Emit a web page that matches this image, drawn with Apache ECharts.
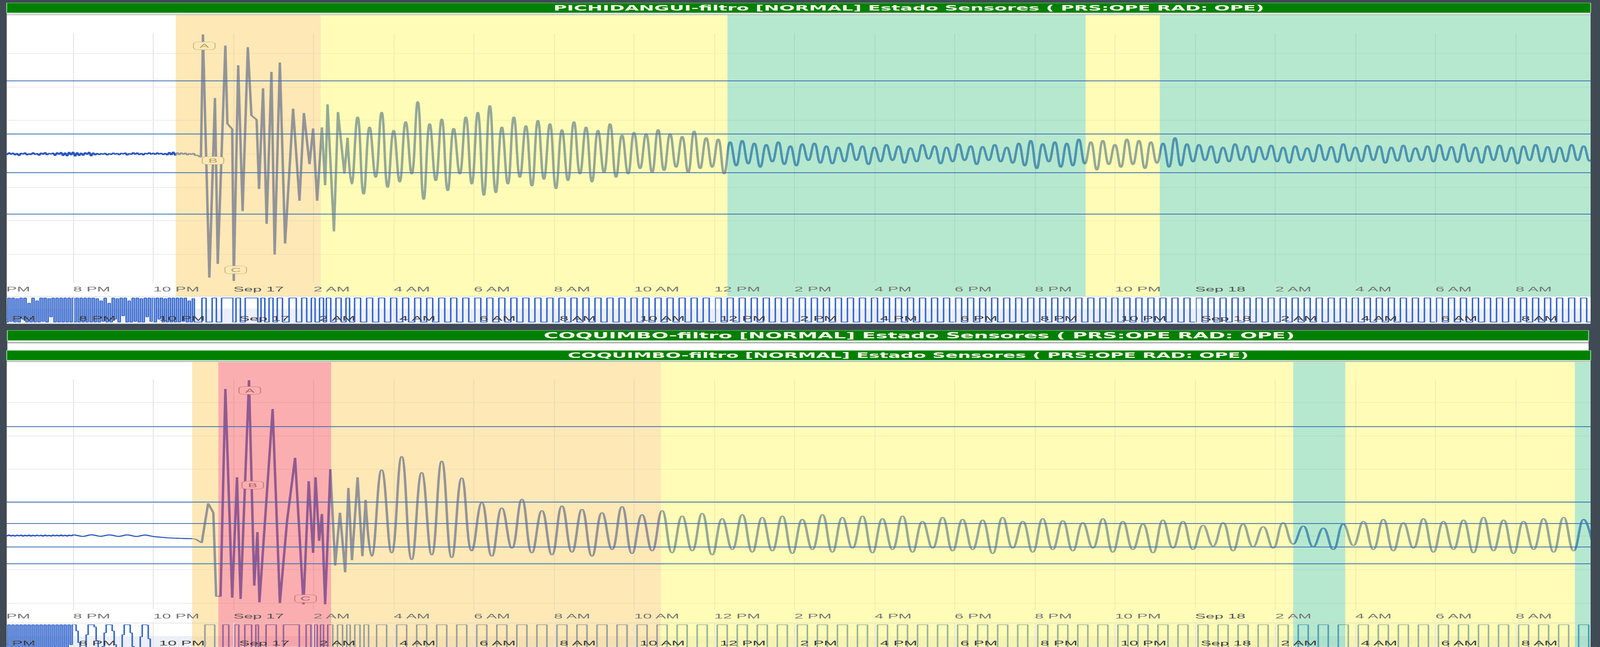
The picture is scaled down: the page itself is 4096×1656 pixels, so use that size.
<!DOCTYPE html>
<html><head><meta charset="utf-8">
<script src="https://cdn.jsdelivr.net/npm/echarts@6/dist/echarts.min.js"></script>
<style>
html,body{margin:0;padding:0;background:#404a55;overflow:hidden;width:4096px;height:1656px;}
#chart{width:1707px;height:1656px;transform:scaleX(2.399531);transform-origin:0 0;}
</style></head><body><div id="chart"></div>
<script>
// ---------------- DATA (hours relative to Sep 17 00:00, sea level in m) ----------------
const xMin = -6, xMax = 34, xStep = 2;
const xTickLabels = ['6 PM','8 PM','10 PM','Sep 17','2 AM','4 AM','6 AM','8 AM','10 AM','12 PM','2 PM','4 PM','6 PM','8 PM','10 PM','Sep 18','2 AM','4 AM','6 AM','8 AM','10 AM'];

const titleTop = 'PICHIDANGUI-filtro [NORMAL] Estado Sensores ( PRS:OPE RAD: OPE)';
const titleBottom = 'COQUIMBO-filtro [NORMAL] Estado Sensores ( PRS:OPE RAD: OPE)';

// status bands [from hour, to hour, status]
const p1Bands = [[-1.44,2.18,'orange'],[2.18,12.33,'yellow'],[12.33,21.27,'teal'],[21.27,23.12,'yellow'],[23.12,34,'teal']];
const p2Bands = [[-1.03,-0.375,'orange'],[-0.375,2.44,'red'],[2.44,10.67,'orange'],[10.67,26.45,'yellow'],[26.45,27.75,'teal'],[27.75,33.48,'yellow'],[33.48,34,'teal']];

const p1GridLevels = [1.5,1.0,0.5,0,-0.5,-1.0,-1.5];
const p2GridLevels = [2.0,1.5,1.0,0.5,0,-0.5,-1.0];
const p1Thresholds = [1.095,0.305,-0.275,-0.90];
const p2Thresholds = [1.635,0.51,0.19,-0.16,-0.41];
const p1LevelRange = [-1.925,1.8];
const p2LevelRange = [-1.10,2.345];
const p1NavRange = [-0.012,0.012];
const p2NavRange = [0.0,0.014];

// flags [hour, level, label]
const p1Flags = [[-0.726,1.615,'A'],[-0.509,-0.10,'B'],[0.058,-1.735,'C']];
const p2Flags = [[0.409,2.177,'A'],[0.481,0.762,'B'],[1.80,-0.935,'C']];

// pre-event record, sampled every 0.05 h from -6 h
const noiseStart = -6, noiseStep = 0.05;
const p1NoiseLevel = [
0.010,-0.020,0.015,-0.010,0.020,-0.025,0.005,-0.015,0.020,-0.010,0.015,-0.020,0.010,-0.030,0.012,-0.008,0.018,-0.020,0.006,-0.015,
0.020,-0.012,0.008,-0.025,0.015,-0.010,0.022,-0.018,0.010,-0.006,0.016,-0.028,0.020,-0.012,0.025,-0.030,0.018,-0.035,0.028,-0.020,
0.030,-0.038,0.022,-0.030,0.015,-0.025,0.020,-0.012,0.028,-0.035,0.018,-0.020,0.010,-0.015,0.008,-0.010,0.012,-0.020,0.006,-0.012,
0.015,-0.008,0.010,-0.018,0.012,-0.005,0.016,-0.022,0.008,-0.012,0.020,-0.010,0.018,-0.015,0.010,-0.020,0.012,-0.006,0.020,-0.010,
0.014,-0.012,0.018,-0.008,0.012,-0.015,0.010,-0.020,0.025,-0.018,0.030,-0.025,0.020,-0.015,0.018,-0.010,0.015,-0.020,0.008,-0.012,0.010,-0.025,-0.020,-0.040];
const p2NoiseLevel = [
0.016,-0.002,0.015,0.000,0.017,-0.003,0.014,0.001,0.018,-0.001,0.015,-0.002,0.016,0.002,0.017,-0.003,0.015,0.000,0.018,-0.002,
0.016,-0.001,0.017,0.001,0.015,-0.003,0.018,0.000,0.014,-0.002,0.017,0.002,0.016,-0.001,0.018,0.000,0.015,-0.002,0.017,0.003,
0.018,0.016,0.010,0.004,-0.002,-0.004,0.000,0.008,0.016,0.020,0.017,0.012,0.005,-0.001,-0.003,0.002,0.009,0.015,0.019,0.016,
0.010,0.003,-0.003,-0.004,0.001,0.008,0.015,0.018,0.015,0.009,0.002,-0.004,-0.005,0.000,0.007,0.014,0.017,0.013,0.006,0.000,
-0.006,-0.010,-0.012,-0.015,-0.018,-0.020,-0.022,-0.025,-0.027,-0.028,-0.030,-0.031,-0.032,-0.033,-0.034,-0.035,-0.036,-0.036,-0.037,-0.038,-0.040,-0.045,-0.060,-0.080];

// main arrival, read point by point [hour, level]
const p1Event = [[-0.81,-0.05],[-0.76,1.785],[-0.60,-1.85],[-0.46,0.835],[-0.39,-1.645],[-0.20,1.62],[-0.15,0.45],[-0.03,0.37],[0.01,-1.90],[0.12,1.325],[0.23,-0.855],[0.36,1.595],[0.45,0.575],[0.58,0.51],[0.64,-0.525],[0.74,0.98],[0.83,-1.045],[0.95,1.225],[1.03,-1.505],[1.16,1.365],[1.29,-1.34],[1.49,0.675],[1.65,-0.70],[1.76,0.61],[1.90,-0.155],[1.99,0.38],[2.09,-0.70],[2.21,0.395],[2.29,-0.47],[2.35,0.74],[2.51,-1.16],[2.61,0.625],[2.77,-0.295],[2.85,0.24]];
const p2Event = [[-0.79,-0.10],[-0.63,0.49],[-0.50,0.35],[-0.43,-0.90],[-0.32,-0.90],[-0.20,2.20],[-0.03,-0.92],[0.09,0.88],[0.18,-0.94],[0.39,2.33],[0.52,-0.74],[0.60,0.06],[0.65,-0.99],[0.98,1.90],[1.16,-1.00],[1.34,0.23],[1.54,1.17],[1.75,-1.02],[1.88,0.82],[1.99,-0.25],[2.05,0.88],[2.14,-0.07],[2.21,0.33],[2.29,-1.02],[2.42,1.00],[2.54,-0.44],[2.66,0.35],[2.79,-0.54],[2.87,0.72],[2.96,-0.36],[3.10,0.88],[3.22,-0.30],[3.30,0.54]];

// later oscillations: successive troughs / crests
const p1WaveStart = 2.95, p1WaveStep = 0.15;
const p1WaveLevel = [
-0.45,0.55,-0.60,0.40,-0.35,0.62,-0.50,0.35,-0.42,0.48,
-0.30,0.78,-0.68,0.45,-0.40,0.52,-0.55,0.38,-0.30,0.55,
-0.45,0.62,-0.62,0.72,-0.58,0.40,-0.45,0.55,-0.35,0.42,
-0.48,0.50,-0.38,0.45,-0.52,0.36,-0.40,0.48,-0.30,0.40,
-0.42,0.35,-0.28,0.45,-0.35,0.28,-0.30,0.32,-0.22,0.30,
-0.28,0.36,-0.25,0.30,-0.20,0.26,-0.28,0.34,-0.22,0.24,
-0.20,0.22,-0.30,0.18,-0.18,0.20,-0.15,0.16,-0.20,0.14,
-0.12,0.18,-0.16,0.12,-0.18,0.15,-0.10,0.16,-0.14,0.12,
-0.15,0.10,-0.12,0.16,-0.10,0.12,-0.16,0.10,-0.12,0.14,
-0.10,0.12,-0.14,0.09,-0.12,0.14,-0.08,0.12,-0.15,0.10,
-0.12,0.15,-0.10,0.12,-0.16,0.11,-0.10,0.14,-0.12,0.10,
-0.14,0.16,-0.18,0.20,-0.22,0.15,-0.12,0.18,-0.20,0.16,
-0.18,0.22,-0.15,0.18,-0.24,0.20,-0.16,0.14,-0.20,0.22,
-0.16,0.20,-0.22,0.18,-0.14,0.16,-0.20,0.24,-0.18,0.15,
-0.12,0.14,-0.10,0.12,-0.14,0.10,-0.12,0.15,-0.10,0.12,
-0.13,0.11,-0.09,0.13,-0.12,0.10,-0.14,0.12,-0.10,0.09,
-0.12,0.14,-0.10,0.11,-0.13,0.15,-0.11,0.10,-0.12,0.13,
-0.10,0.12,-0.14,0.10,-0.11,0.13,-0.12,0.09,-0.10,0.12,
-0.12,0.14,-0.10,0.11,-0.13,0.15,-0.12,0.10,-0.14,0.12,
-0.10,0.13,-0.12,0.10,-0.15,0.12,-0.10,0.14,-0.12,0.11,
-0.13,0.10,-0.12,0.14,-0.10,0.12,-0.11,0.10];
const p2WaveStart = 3.45, p2WaveStep = 0.25;
const p2WaveLevel = [
-0.30,0.99,-0.25,1.19,-0.35,0.95,-0.28,1.12,-0.32,0.87,
-0.22,0.50,-0.30,0.42,-0.18,0.55,-0.25,0.38,-0.28,0.45,
-0.24,0.40,-0.30,0.35,-0.20,0.44,-0.26,0.32,-0.22,0.38,
-0.25,0.30,-0.22,0.34,-0.28,0.26,-0.20,0.32,-0.24,0.28,
-0.22,0.30,-0.26,0.25,-0.20,0.32,-0.24,0.28,-0.18,0.30,
-0.25,0.26,-0.20,0.30,-0.24,0.22,-0.18,0.28,-0.22,0.25,
-0.20,0.24,-0.26,0.28,-0.18,0.22,-0.24,0.26,-0.20,0.23,
-0.22,0.20,-0.18,0.26,-0.24,0.22,-0.20,0.18,-0.25,0.24,
-0.18,0.22,-0.20,0.16,-0.15,0.20,-0.22,0.18,-0.16,0.14,
-0.18,0.20,-0.12,0.15,-0.16,0.12,-0.20,0.18,-0.14,0.22,
-0.20,0.25,-0.22,0.20,-0.18,0.26,-0.24,0.22,-0.20,0.24,
-0.25,0.28,-0.22,0.24,-0.26,0.22,-0.20,0.26,-0.24,0.28,
-0.22,0.25,-0.20];

// ---------------- LAYOUT / STYLE ----------------
const S = 4096/1707;              // horizontal stretch of the reference
const kx = 0.856 / S, ky = 0.856;
const X = v => v * kx, Y = v => v * ky;   // reference px -> chart px
const LINE_BLUE = '#2a56c2';
const BAND_COLORS = {orange:'rgba(251,209,109,0.5)', yellow:'rgba(253,249,109,0.5)', teal:'rgba(109,209,159,0.5)', red:'rgba(247,93,95,0.5)'};
const GRID_LEFT = X(-21), GRID_W = X(4793.2);

function sampled(start, step, vals){ return vals.map((v,i)=>[+(start+i*step).toFixed(3), v]); }
const p1Main = sampled(noiseStart, noiseStep, p1NoiseLevel).concat(p1Event);
const p1Waves = [p1Event[p1Event.length-1]].concat(sampled(p1WaveStart, p1WaveStep, p1WaveLevel));
const p2Main = sampled(noiseStart, noiseStep, p2NoiseLevel).concat(p2Event);
const p2Waves = [p2Event[p2Event.length-1]].concat(sampled(p2WaveStart, p2WaveStep, p2WaveLevel));
function navData(points, range){ const pad=(range[1]-range[0])*0.06; const lo=range[0]+pad, hi=range[1]-pad; return points.map(p=>[p[0], Math.min(hi, Math.max(lo, p[1]))]); }

function tickText(v){ const i=Math.round((v-xMin)/xStep); return xTickLabels[i]||''; }
function labelAxis(gi, z){
  return {type:'value', gridIndex:gi, position:'bottom', min:xMin, max:xMax, interval:xStep, z:z,
    axisLine:{show:false,onZero:false}, axisTick:{show:false}, splitLine:{show:false},
    axisLabel:{show:true, align:'left', margin:8.5, showMinLabel:true, showMaxLabel:false, hideOverlap:false,
      formatter:v=>{const s=tickText(v); return s.indexOf('Sep')===0?'{d|'+s+'}':'{n|'+s+'}';},
      rich:{d:{color:'#555',fontSize:17,fontFamily:'Liberation Sans'}, n:{color:'#777',fontSize:17,fontFamily:'Liberation Sans'}}}};
}
function gridAxis(gi){
  return {type:'value', gridIndex:gi, position:'bottom', min:xMin, max:xMax, interval:xStep, z:2,
    axisLine:{show:false,onZero:false}, axisTick:{show:false}, axisLabel:{show:false},
    splitLine:{show:true, lineStyle:{color:'#e3e3ea', width:1}}};
}
function navAxis(gi, margin){
  return {type:'value', gridIndex:gi, position:'bottom', min:xMin, max:xMax, interval:xStep, z:7,
    axisLine:{show:false,onZero:false}, axisTick:{show:false},
    splitLine:{show:true, lineStyle:{color:'#e3e3ea', width:1}},
    axisLabel:{show:true, inside:true, margin:margin, align:'left', padding:[0,0,0,6], showMinLabel:true, showMaxLabel:false,
      color:'#3c3c3c', fontSize:17, fontFamily:'Liberation Sans', formatter:v=>tickText(v)}};
}
function hidden(gi, min, max){ return {type:'value', gridIndex:gi, min:min, max:max, show:false, axisLine:{onZero:false}}; }

function base(data, xi, yi, z){ return {type:'line', data:data, xAxisIndex:xi, yAxisIndex:yi, z:z, symbol:'none', showSymbol:false, silent:true, animation:false, clip:true}; }
function gridLinesSeries(levels, xi, yi){ const s=base([], xi, yi, 2); s.markLine={z:2, silent:true, animation:false, symbol:['none','none'], label:{show:false}, lineStyle:{color:'#ebebf2', width:2, type:'solid'}, emphasis:{disabled:true}, data:levels.map(v=>({yAxis:v}))}; return s; }
function thresholdSeries(levels, xi, yi){ const s=base([], xi, yi, 6); s.markLine={z:6, silent:true, animation:false, symbol:['none','none'], label:{show:false}, lineStyle:{color:'#3f6db6', width:2.2, type:'solid'}, emphasis:{disabled:true}, data:levels.map(v=>({yAxis:v}))}; return s; }
function bandSeries(bands, xi, yi){ const s=base([], xi, yi, 5); s.markArea={z:5, silent:true, animation:false, label:{show:false}, emphasis:{disabled:true}, data:bands.map(b=>[{xAxis:b[0], itemStyle:{color:BAND_COLORS[b[2]]}},{xAxis:b[1]}])}; return s; }
function mainSeries(data, xi, yi, flags){ const s=base(data, xi, yi, 3); s.lineStyle={color:LINE_BLUE, width:2.6}; s.markPoint={z:4, silent:true, animation:false, symbol:'roundRect', symbolSize:[23,20], itemStyle:{color:'#ffffff', borderColor:'#9a9a9a', borderWidth:1}, label:{show:true, position:'inside', formatter:'{b}', color:'#666', fontSize:15, fontFamily:'Liberation Sans'}, data:flags.map(f=>({name:f[2], coord:[f[0],f[1]]}))}; return s; }
function waveSeries(data, xi, yi){ const s=base(data, xi, yi, 3); s.lineStyle={color:LINE_BLUE, width:2.6}; s.smooth=0.45; return s; }
function navSeries(data, range, xi, yi){ const s=base(navData(data, range), xi, yi, 3); s.step='middle'; s.lineStyle={color:'#3366cc', width:1.6}; return s; }

const grids = [
  {left:GRID_LEFT, width:GRID_W, top:Y(100), height:Y(745)},   // 0 p1 main
  {left:GRID_LEFT, width:GRID_W, top:Y(45), height:Y(841)},    // 1 p1 bands
  {left:GRID_LEFT, width:GRID_W, top:Y(886), height:Y(82)},    // 2 p1 navigator
  {left:GRID_LEFT, width:GRID_W, top:Y(1134), height:Y(689)},  // 3 p2 main
  {left:GRID_LEFT, width:GRID_W, top:Y(1083), height:Y(851)},  // 4 p2 bands
  {left:GRID_LEFT, width:GRID_W, top:Y(1863), height:Y(82)}    // 5 p2 navigator
].map(g=>Object.assign({containLabel:false, outerBoundsMode:'none'}, g));

const xAxes = [gridAxis(0), labelAxis(0,7), hidden(1,xMin,xMax), navAxis(2,4.5),
               gridAxis(3), labelAxis(3,7), hidden(4,xMin,xMax), navAxis(5,10.5)];
const yAxes = [hidden(0,p1LevelRange[0],p1LevelRange[1]), hidden(1,0,1), hidden(2,p1NavRange[0],p1NavRange[1]),
               hidden(3,p2LevelRange[0],p2LevelRange[1]), hidden(4,0,1), hidden(5,p2NavRange[0],p2NavRange[1])];

const series = [
  gridLinesSeries(p1GridLevels,0,0), mainSeries(p1Main,0,0,p1Flags), waveSeries(p1Waves,0,0),
  bandSeries(p1Bands,2,1), thresholdSeries(p1Thresholds,0,0),
  navSeries(p1Main.concat(p1Waves.slice(1)), p1NavRange, 3, 2),
  gridLinesSeries(p2GridLevels,4,3), mainSeries(p2Main,4,3,p2Flags), waveSeries(p2Waves,4,3),
  bandSeries(p2Bands,6,4), thresholdSeries(p2Thresholds,4,3),
  navSeries(p2Main.concat(p2Waves.slice(1)), p2NavRange, 7, 5)
];

function rect(x,y,w,h,fill,z,extra){ return Object.assign({type:'rect', silent:true, z:z, shape:{x:X(x),y:Y(y),width:X(w),height:Y(h)}, style:{fill:fill}}, extra||{}); }
function bar(x,y,w,h){ return {type:'rect', silent:true, z:10, shape:{x:X(x),y:Y(y),width:X(w),height:Y(h)}, style:{fill:'#008000', stroke:'#86d886', lineWidth:1}}; }
function txt(t,cx,cy,size){ return {type:'text', silent:true, z:11, style:{text:t, x:X(cx), y:Y(cy), fill:'#f6f6e6', font:'bold '+size+'px "DejaVu Sans"', textAlign:'center', textVerticalAlign:'middle'}}; }
const graphics = [
  rect(20,39,4737,929,'#ffffff',0),
  rect(20,923,4737,45,'#eceff7',1),
  rect(20,42.5,4737,2.5,'#a8a8a8',1),
  {type:'line', silent:true, z:7, shape:{x1:X(20),y1:Y(886),x2:X(4757),y2:Y(886)}, style:{stroke:'#cccccc', lineWidth:1}},
  rect(22,1018,4729,30,'#ffffff',0),
  rect(22,1022,4729,5,'#b8b8b8',1),
  rect(20,1077,4737,900,'#ffffff',0),
  rect(20,1902,4737,40,'#eceff7',1),
  rect(20,1079.5,4737,2.5,'#a8a8a8',1),
  {type:'line', silent:true, z:7, shape:{x1:X(20),y1:Y(1863),x2:X(4757),y2:Y(1863)}, style:{stroke:'#cccccc', lineWidth:1}},
  rect(0,0,20,1934,'#404a55',10),
  rect(4757,0,60,1934,'#404a55',10),
  bar(20,9,4737,29), bar(22,988,4729,30), bar(20,1048,4737,29),
  txt(titleTop,2718,23.5,19.6), txt(titleBottom,2749,1003,21.4), txt(titleBottom,2716,1062.5,19.4)
];

const chart = echarts.init(document.getElementById('chart'), null, {renderer:'svg'});
chart.setOption({
  animation:false, backgroundColor:'#404a55',
  grid:grids, xAxis:xAxes, yAxis:yAxes, series:series, graphic:{elements:graphics}
});
</script></body></html>
